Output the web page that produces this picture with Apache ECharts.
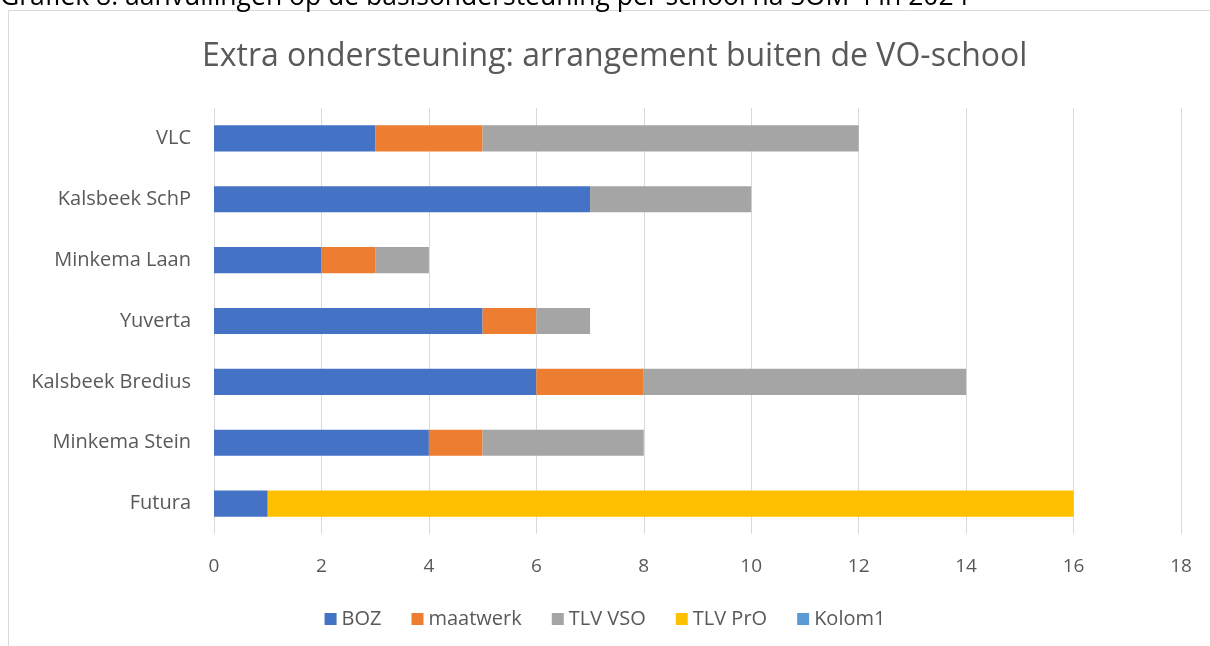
<!DOCTYPE html>
<html>
<head>
<meta charset="utf-8">
<script src="https://cdn.jsdelivr.net/npm/echarts@6/dist/echarts.min.js"></script>
<style>
  html, body { margin: 0; padding: 0; background: #fff; }
  #chart { width: 1210px; height: 646px; }
</style>
</head>
<body>
<div id="chart"></div>
<script>
// schools, bottom to top like the reference
const schools = ['Futura', 'Minkema Stein', 'Kalsbeek Bredius', 'Yuverta', 'Minkema Laan', 'Kalsbeek SchP', 'VLC'];
const boz = [1, 4, 6, 5, 2, 7, 3];
const maatwerk = [0, 1, 2, 1, 1, 0, 2];
const tlvVso = [0, 3, 6, 1, 1, 3, 7];
const tlvPro = [15, 0, 0, 0, 0, 0, 0];
const kolom1 = [null, null, null, null, null, null, null];
const seriesNames = ['BOZ', 'maatwerk', 'TLV VSO', 'TLV PrO', 'Kolom1'];
const seriesColors = ['#4472C4', '#ED7D31', '#A5A5A5', '#FFC000', '#5B9BD5'];

const font = '"Open Sans", "Liberation Sans", sans-serif';
const chart = echarts.init(document.getElementById('chart'));

const series = [boz, maatwerk, tlvVso, tlvPro, kolom1].map((d, i) => ({
  name: seriesNames[i],
  type: 'bar',
  stack: 'total',
  barCategoryGap: '57%',
  itemStyle: { color: seriesColors[i] },
  data: d.map(v => (v === 0 ? null : v)),
}));

chart.setOption({
  animation: false,
  textStyle: { fontFamily: font },
  graphic: [
    {
      type: 'rect',
      shape: { x: 8.5, y: 10.5, width: 1400, height: 800 },
      style: { fill: 'none', stroke: '#D9D9D9', lineWidth: 1 },
    },
    {
      type: 'text',
      style: {
        x: 0, y: 11,
        text: 'Grafiek 8: aanvullingen op de basisondersteuning per school na SOM 4 in 2024',
        font: '26.5px ' + font,
        fill: '#000',
        verticalAlign: 'bottom',
      },
    },
  ],
  title: {
    text: 'Extra ondersteuning: arrangement buiten de VO-school',
    left: 197,
    top: 36,
    textStyle: { fontSize: 32, fontWeight: 'normal', color: '#595959', fontFamily: font },
  },
  legend: {
    bottom: 12,
    left: 'center',
    itemWidth: 12,
    itemHeight: 12,
    itemGap: 30,
    icon: 'rect',
    textStyle: { fontSize: 20, color: '#595959' },
    data: seriesNames,
  },
  grid: { left: 214, right: 29, top: 108, bottom: 112, containLabel: false },
  xAxis: {
    type: 'value',
    min: 0,
    max: 18,
    interval: 2,
    axisLine: { show: false },
    axisTick: { show: false },
    axisLabel: { fontSize: 19, color: '#595959', margin: 23 },
    splitLine: { lineStyle: { color: '#D9D9D9' } },
  },
  yAxis: {
    type: 'category',
    data: schools,
    axisLine: { show: false },
    axisTick: { show: false },
    axisLabel: { fontSize: 20, color: '#595959', margin: 23 },
  },
  series,
});
</script>
</body>
</html>
